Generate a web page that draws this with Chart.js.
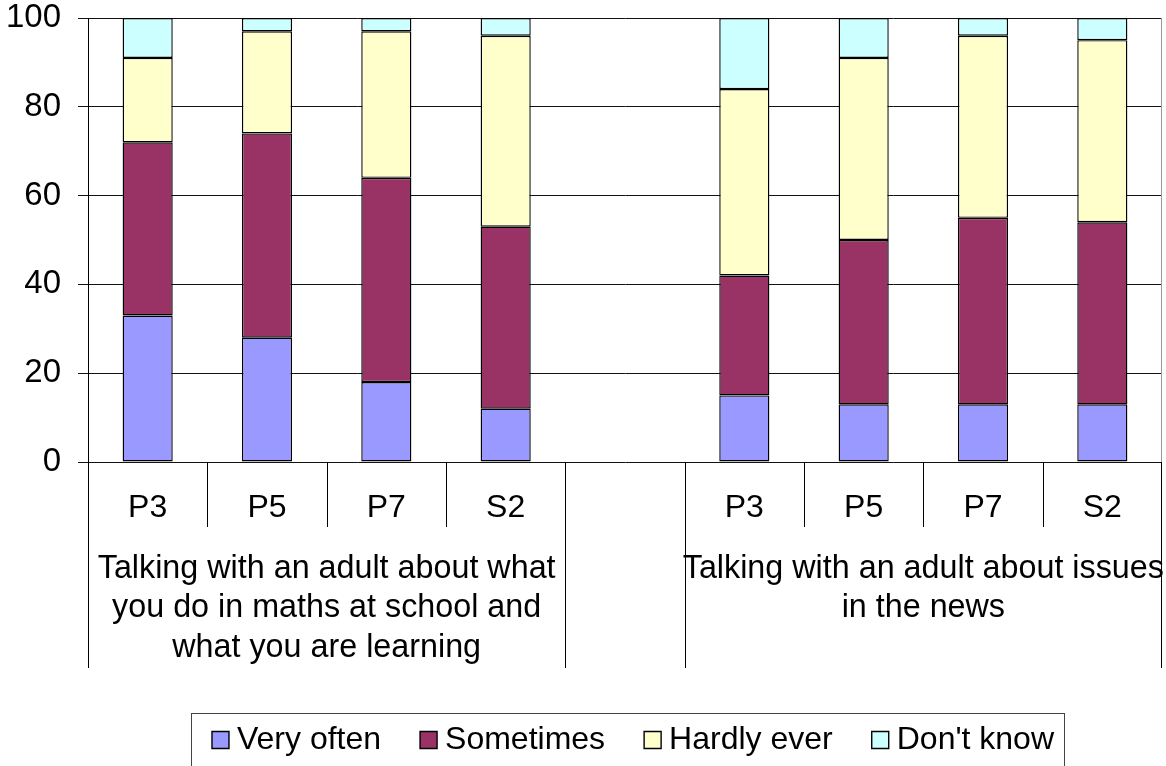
<!DOCTYPE html>
<html>
<head>
<meta charset="utf-8">
<title>Talking with an adult</title>
<script src="https://cdn.jsdelivr.net/npm/chart.js@4/dist/chart.umd.min.js"></script>
<style>
  html, body { margin: 0; padding: 0; background: #fff; }
  #wrap { width: 1166px; height: 766px; position: relative; }
</style>
</head>
<body>
<div id="wrap"><canvas id="chart"></canvas></div>
<script>
// year groups, with an empty slot between the two questions
const categories = ['P3', 'P5', 'P7', 'S2', '', 'P3', 'P5', 'P7', 'S2'];

const veryOften  = [33, 28, 18, 12, null, 15, 13, 13, 13];
const sometimes  = [39, 46, 46, 41, null, 27, 37, 42, 41];
const hardlyEver = [19, 23, 33, 43, null, 42, 41, 41, 41];
const dontKnow   = [ 9,  3,  3,  4, null, 16,  9,  4,  5];

const yTicks = [0, 20, 40, 60, 80, 100];

const groupLabels = [
  ['Talking with an adult about what', 'you do in maths at school and', 'what you are learning'],
  ['Talking with an adult about issues', 'in the news']
];
const groupFirst = [0, 5];
const groupLast  = [3, 8];

const FONT = '"Liberation Sans", Arial, Helvetica, sans-serif';
Chart.defaults.font.family = FONT;
Chart.defaults.color = '#000';

// draws the two-level category axis (dividers + group captions) and the legend frame
const axisDecor = {
  id: 'axisDecor',
  afterLayout(chart) {
    const lg = chart.legend;
    if (lg) { lg.left += 56; lg.right += 56; }
  },
  afterDraw(chart) {
    const ctx = chart.ctx;
    const area = chart.chartArea;
    const xs = chart.scales.x;
    const slot = (area.right - area.left) / categories.length;
    const edges = [];
    groupFirst.forEach((f, i) => { edges.push(f, groupLast[i] + 1); });

    ctx.save();
    // right border of plot
    ctx.strokeStyle = '#999';
    ctx.lineWidth = 1;
    ctx.beginPath();
    ctx.moveTo(Math.round(area.right) - 0.5, area.top);
    ctx.lineTo(Math.round(area.right) - 0.5, area.bottom);
    ctx.stroke();

    ctx.strokeStyle = '#000';
    for (let i = 0; i <= categories.length; i++) {
      let px = Math.round(area.left + i * slot) + 0.5;
      if (i === categories.length) px -= 1;
      const long = edges.includes(i);
      ctx.beginPath();
      ctx.moveTo(px, area.bottom);
      ctx.lineTo(px, area.bottom + (long ? 206 : 65));
      ctx.stroke();
    }

    ctx.fillStyle = '#000';
    ctx.font = '32.3px ' + FONT;
    ctx.textAlign = 'center';
    ctx.textBaseline = 'middle';
    groupLabels.forEach((lines, g) => {
      const cx = (xs.getPixelForValue(groupFirst[g]) + xs.getPixelForValue(groupLast[g])) / 2;
      lines.forEach((t, j) => ctx.fillText(t, cx, area.bottom + 107 + j * 39.5));
    });

    // legend frame
    const hb = chart.legend.legendHitBoxes;
    if (hb && hb.length) {
      const l = hb[0].left - 29;
      const r = hb[hb.length - 1].left + hb[hb.length - 1].width + 10;
      const t = hb[0].top - 11;
      ctx.strokeStyle = '#444';
      ctx.strokeRect(Math.round(l) + 0.5, Math.round(t) + 0.5, Math.round(r - l), chart.height + 10);
    }
    ctx.restore();
  }
};

const ds = (label, data, color) => ({
  label, data,
  backgroundColor: color,
  borderColor: '#000',
  borderWidth: 1.4,
  borderSkipped: false,
  barPercentage: 0.42,
  categoryPercentage: 1
});

new Chart(document.getElementById('chart'), {
  type: 'bar',
  data: {
    labels: categories,
    datasets: [
      ds('Very often', veryOften, '#9999FF'),
      ds('Sometimes', sometimes, '#993366'),
      ds('Hardly ever', hardlyEver, '#FFFFCC'),
      ds("Don't know", dontKnow, '#CCFFFF')
    ]
  },
  options: {
    responsive: true,
    maintainAspectRatio: false,
    animation: false,
    layout: { padding: { top: 18, right: 4, left: 0, bottom: 0 } },
    plugins: {
      legend: {
        position: 'bottom',
        labels: {
          usePointStyle: true,
          pointStyle: 'rect',
          boxWidth: 1,
          boxHeight: 17,
          padding: 47,
          font: { size: 32 },
          color: '#000'
        }
      },
      tooltip: { enabled: false }
    },
    scales: {
      x: {
        stacked: true,
        grid: { display: false, drawTicks: false },
        border: { display: false },
        ticks: { font: { size: 32 }, padding: 27, maxRotation: 0, autoSkip: false },
        afterFit(s) { s.height = 215; }
      },
      y: {
        stacked: true,
        min: 0,
        max: 100,
        afterBuildTicks(s) { s.ticks = yTicks.map(v => ({ value: v })); },
        grid: { color: '#111', lineWidth: 1, tickLength: 10 },
        border: { color: '#000', width: 1 },
        ticks: { font: { size: 33 }, padding: 17 },
        afterFit(s) { s.width = 88; s.paddingTop = 0; s.paddingBottom = 0; }
      }
    }
  },
  plugins: [axisDecor]
});
</script>
</body>
</html>
